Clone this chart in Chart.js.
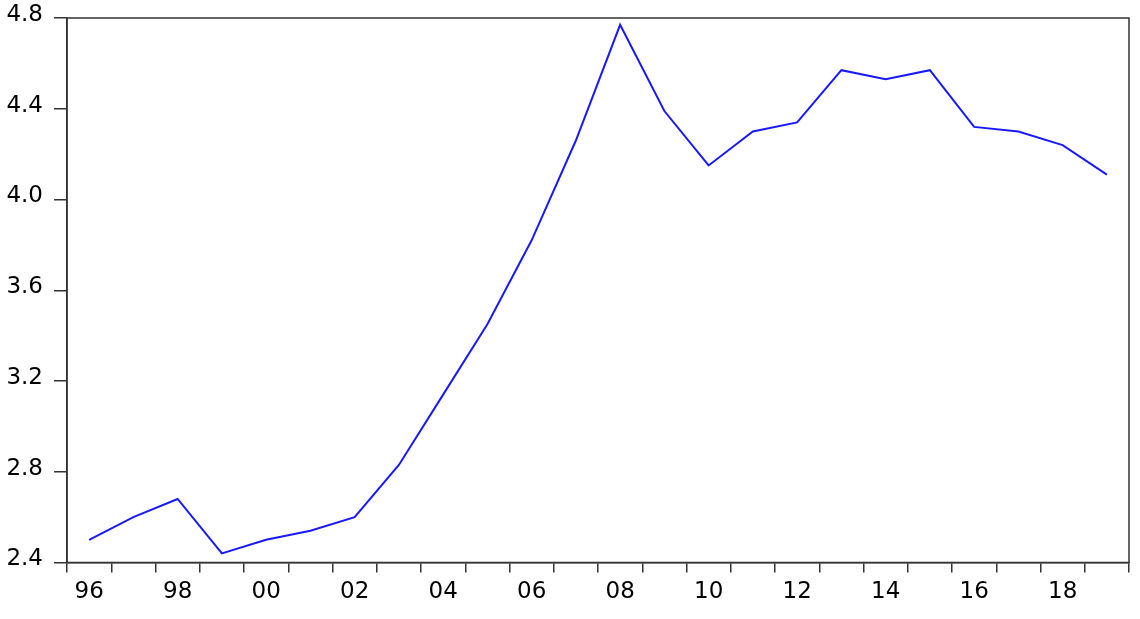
<!DOCTYPE html>
<html>
<head>
<meta charset="utf-8">
<script src="https://cdn.jsdelivr.net/npm/chart.js@4/dist/chart.umd.min.js"></script>
<style>
  html, body { margin: 0; padding: 0; background: #fff; }
  #wrap { width: 1140px; height: 619px; position: relative; }
</style>
</head>
<body>
<div id="wrap"><canvas id="c"></canvas></div>
<script>
const categories = ['1996','1997','1998','1999','2000','2001','2002','2003','2004','2005','2006','2007',
                    '2008','2009','2010','2011','2012','2013','2014','2015','2016','2017','2018','2019'];
const seriesValues = [2.50, 2.60, 2.68, 2.44, 2.50, 2.54, 2.60, 2.83, 3.14, 3.45, 3.82, 4.26,
                      4.77, 4.39, 4.15, 4.30, 4.34, 4.57, 4.53, 4.57, 4.32, 4.30, 4.24, 4.11];
const xTickLabels = ['96','','98','','00','','02','','04','','06','','08','','10','','12','','14','','16','','18',''];
const yMin = 2.4, yMax = 4.8, yStep = 0.4;

const FONT = "'DejaVu Sans', Verdana, sans-serif";
const AXIS = '#333333';

const framePlugin = {
  id: 'frame',
  afterDraw(chart) {
    const a = chart.chartArea, ctx = chart.ctx;
    ctx.save();
    ctx.strokeStyle = AXIS;
    ctx.lineWidth = 1.5;
    ctx.strokeRect(a.left, a.top, a.right - a.left, a.bottom - a.top);
    ctx.restore();
  }
};

new Chart(document.getElementById('c'), {
  type: 'line',
  data: {
    labels: categories,
    datasets: [{
      data: seriesValues,
      borderColor: 'rgb(25,25,255)',
      borderWidth: 2,
      pointRadius: 0,
      tension: 0,
      fill: false
    }]
  },
  options: {
    responsive: true,
    maintainAspectRatio: false,
    animation: false,
    layout: { padding: { top: 18, right: 11, left: 0, bottom: 0 } },
    plugins: { legend: { display: false }, tooltip: { enabled: false } },
    scales: {
      x: {
        type: 'category',
        offset: true,
        grid: { offset: true, drawOnChartArea: false, tickLength: 10, color: AXIS, lineWidth: 1.5 },
        border: { color: AXIS, width: 1.5 },
        ticks: {
          autoSkip: false, maxRotation: 0, minRotation: 0, padding: 6,
          color: '#000', font: { family: FONT, size: 23 },
          callback: (v, i) => xTickLabels[i]
        },
        afterFit: s => { s.height = 56.5; s.paddingLeft = 0; s.paddingRight = 0; }
      },
      y: {
        min: yMin, max: yMax,
        grid: { drawOnChartArea: false, tickLength: 13, color: AXIS, lineWidth: 1.5 },
        border: { color: AXIS, width: 1.5 },
        ticks: {
          stepSize: yStep, padding: 11, labelOffset: -3,
          color: '#000', font: { family: FONT, size: 23 },
          callback: v => Number(v).toFixed(1)
        },
        afterFit: s => { s.width = 67; s.paddingTop = 0; s.paddingBottom = 0; }
      }
    }
  },
  plugins: [framePlugin]
});
</script>
</body>
</html>
